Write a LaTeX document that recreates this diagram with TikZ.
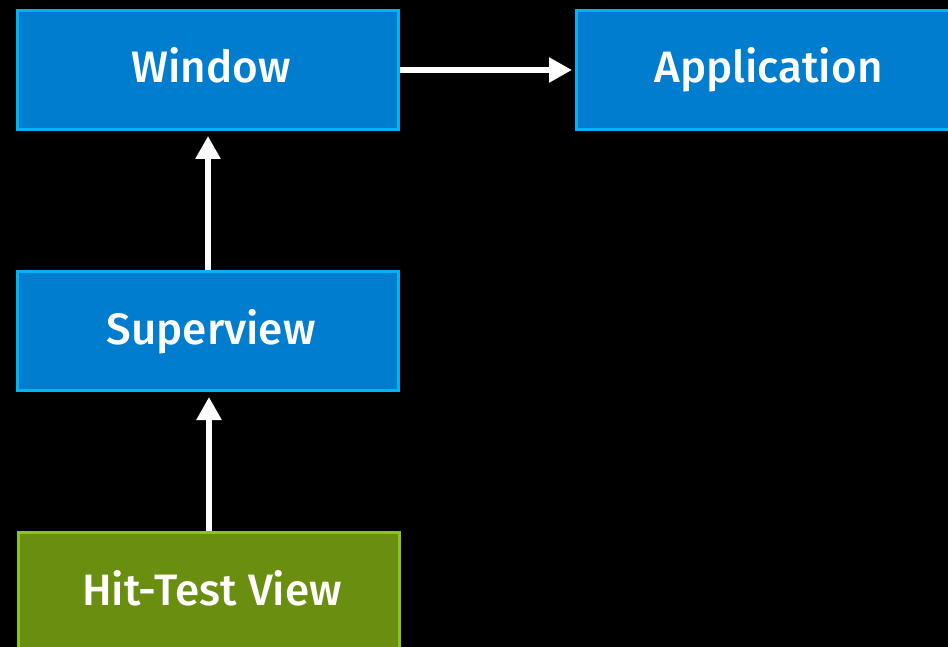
\documentclass[tikz,border=0pt]{standalone}
\usepackage{fontspec}
\setmainfont{Fira Sans Medium}
\usetikzlibrary{arrows.meta}
\definecolor{boxblue}{HTML}{007DCF}
\definecolor{edgeblue}{HTML}{00B4F0}
\definecolor{boxgreen}{HTML}{6A8F10}
\definecolor{edgegreen}{HTML}{8EC220}
\tikzset{
  bluebox/.style={draw=edgeblue, fill=boxblue, line width=3pt, minimum width=381pt, minimum height=119pt, text=white, font=\fontsize{44}{50}\selectfont, inner sep=0pt, text height=34pt, text depth=8pt},
  greenbox/.style={bluebox, draw=edgegreen, fill=boxgreen},
  flow/.style={draw=white, line width=5.5pt, -{Triangle[width=24pt,length=23pt]}}
}
\begin{document}
\begin{tikzpicture}[x=1pt,y=-1pt]
\fill[black] (0,0) rectangle (948,647);
\clip (0,0) rectangle (948,647);
\node[bluebox] (win) at (208,70) {\hspace*{6pt}Window};
\node[bluebox] (app) at (767,70) {\hspace*{3pt}Application};
\node[bluebox] (sup) at (208,331) {\hspace*{6pt}Superview};
\node[greenbox] (hit) at (209,592) {\hspace*{6pt}Hit-Test View};
\draw[flow, shorten >=3pt] (win.east) -- (app.west);
\draw[flow, shorten >=5pt] (sup.north) -- (win.south);
\draw[flow, shorten >=5pt] (hit.north) -- (hit.north |- sup.south);
\end{tikzpicture}
\end{document}
